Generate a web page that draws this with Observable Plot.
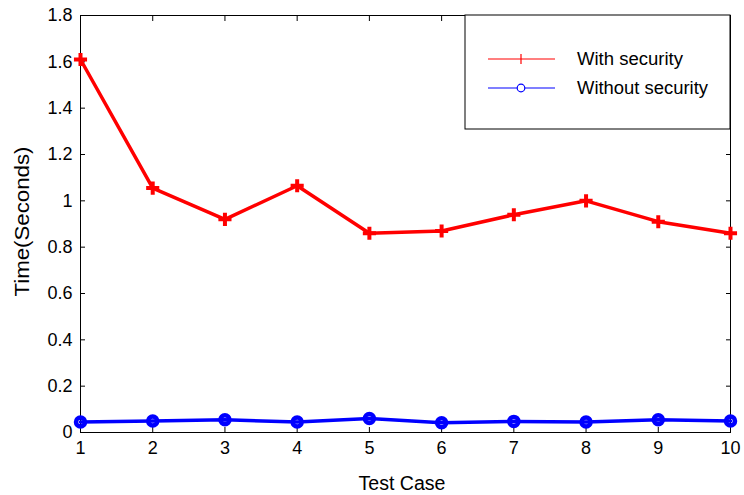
<!DOCTYPE html>
<html>
<head>
<meta charset="utf-8">
<script src="https://cdn.jsdelivr.net/npm/d3@7"></script>
<script src="https://cdn.jsdelivr.net/npm/@observablehq/plot@0.6"></script>
<style>
  html, body { margin: 0; padding: 0; background: #fff; }
  #chart svg { display: block; }
</style>
</head>
<body>
<div id="chart"></div>
<script>
const testCases = [1, 2, 3, 4, 5, 6, 7, 8, 9, 10];
const withSecurity = [1.61, 1.055, 0.92, 1.065, 0.86, 0.87, 0.94, 1.0, 0.91, 0.86];
const withoutSecurity = [0.045, 0.05, 0.055, 0.045, 0.06, 0.042, 0.048, 0.045, 0.055, 0.05];
const yTicks = [0, 0.2, 0.4, 0.6, 0.8, 1.0, 1.2, 1.4, 1.6, 1.8];
const yTickLabels = ["0", "0.2", "0.4", "0.6", "0.8", "1", "1.2", "1.4", "1.6", "1.8"];
const seriesNames = ["With security", "Without security"];
const seriesColors = ["#ff0000", "#0000ff"];

const rowsWith = testCases.map((c, i) => ({case: c, time: withSecurity[i]}));
const rowsWithout = testCases.map((c, i) => ({case: c, time: withoutSecurity[i]}));

const W = 744, H = 495;
const mL = 80, mR = 14, mT = 15, mB = 63;

const chart = Plot.plot({
  width: W,
  height: H,
  marginLeft: mL,
  marginRight: mR,
  marginTop: mT,
  marginBottom: mB,
  style: {fontFamily: "'Liberation Sans', Arial, sans-serif", fontSize: "18px", color: "#000", background: "#fff"},
  x: {type: "linear", domain: [1, 10]},
  y: {type: "linear", domain: [0, 1.8]},
  marks: [
    Plot.axisX({anchor: "bottom", ticks: testCases, tickSize: -5, tickPadding: 14, label: null, tickFormat: d => String(d)}),
    Plot.axisX({anchor: "top", ticks: testCases, tickSize: -5, label: null, tickFormat: () => ""}),
    Plot.axisY({anchor: "left", ticks: yTicks, tickSize: -5, tickPadding: 13, label: null, tickFormat: (d, i) => yTickLabels[i]}),
    Plot.axisY({anchor: "right", ticks: yTicks, tickSize: -5, label: null, tickFormat: () => ""}),
    Plot.frame({stroke: "#000", strokeWidth: 1}),
    Plot.line(rowsWithout, {x: "case", y: "time", stroke: seriesColors[1], strokeWidth: 3.5}),
    Plot.dot(rowsWithout, {x: "case", y: "time", r: 4.5, stroke: seriesColors[1], strokeWidth: 4.5, fill: "none"}),
    Plot.line(rowsWith, {x: "case", y: "time", stroke: seriesColors[0], strokeWidth: 3.5}),
    Plot.dot(rowsWith, {x: "case", y: "time", r: 4.3, symbol: "plus", stroke: seriesColors[0], strokeWidth: 4})
  ]
});

document.getElementById("chart").appendChild(chart);

const svg = d3.select(chart);
const fontFam = "'Liberation Sans', Arial, sans-serif";

// Axis titles
const plotCx = mL + (W - mL - mR) / 2;
const plotCy = mT + (H - mT - mB) / 2;
svg.append("text")
  .attr("x", plotCx - 3).attr("y", 490)
  .attr("text-anchor", "middle")
  .attr("font-family", fontFam).attr("font-size", 20)
  .attr("fill", "#000")
  .attr("textLength", 87).attr("lengthAdjust", "spacingAndGlyphs")
  .text("Test Case");
svg.append("text")
  .attr("transform", `translate(29,${plotCy - 2}) rotate(-90)`)
  .attr("text-anchor", "middle")
  .attr("font-family", fontFam).attr("font-size", 21)
  .attr("fill", "#000")
  .attr("textLength", 150).attr("lengthAdjust", "spacingAndGlyphs")
  .text("Time(Seconds)");

// Legend
const lg = svg.append("g");
const boxX = 465, boxY = mT, boxW = (W - mR) - 465, boxH = 114;
lg.append("rect").attr("x", boxX).attr("y", boxY).attr("width", boxW).attr("height", boxH)
  .attr("fill", "#fff").attr("stroke", "#000").attr("stroke-width", 1);
const rowsY = [59, 88];
seriesNames.forEach((name, i) => {
  const y = rowsY[i];
  lg.append("line").attr("x1", 488).attr("x2", 555).attr("y1", y).attr("y2", y)
    .attr("stroke", seriesColors[i]).attr("stroke-width", 1.2);
  if (i === 0) {
    lg.append("line").attr("x1", 521).attr("x2", 521).attr("y1", y - 5).attr("y2", y + 5)
      .attr("stroke", seriesColors[i]).attr("stroke-width", 1.2);
  } else {
    lg.append("circle").attr("cx", 521).attr("cy", y).attr("r", 3.8)
      .attr("fill", "#fff").attr("stroke", seriesColors[i]).attr("stroke-width", 1.2);
  }
  lg.append("text").attr("x", 577).attr("y", y + 6)
    .attr("text-anchor", "start")
    .attr("font-family", fontFam).attr("font-size", 18).attr("fill", "#000")
    .attr("textLength", i === 0 ? 106 : 131).attr("lengthAdjust", "spacingAndGlyphs")
    .text(name);
});
</script>
</body>
</html>
